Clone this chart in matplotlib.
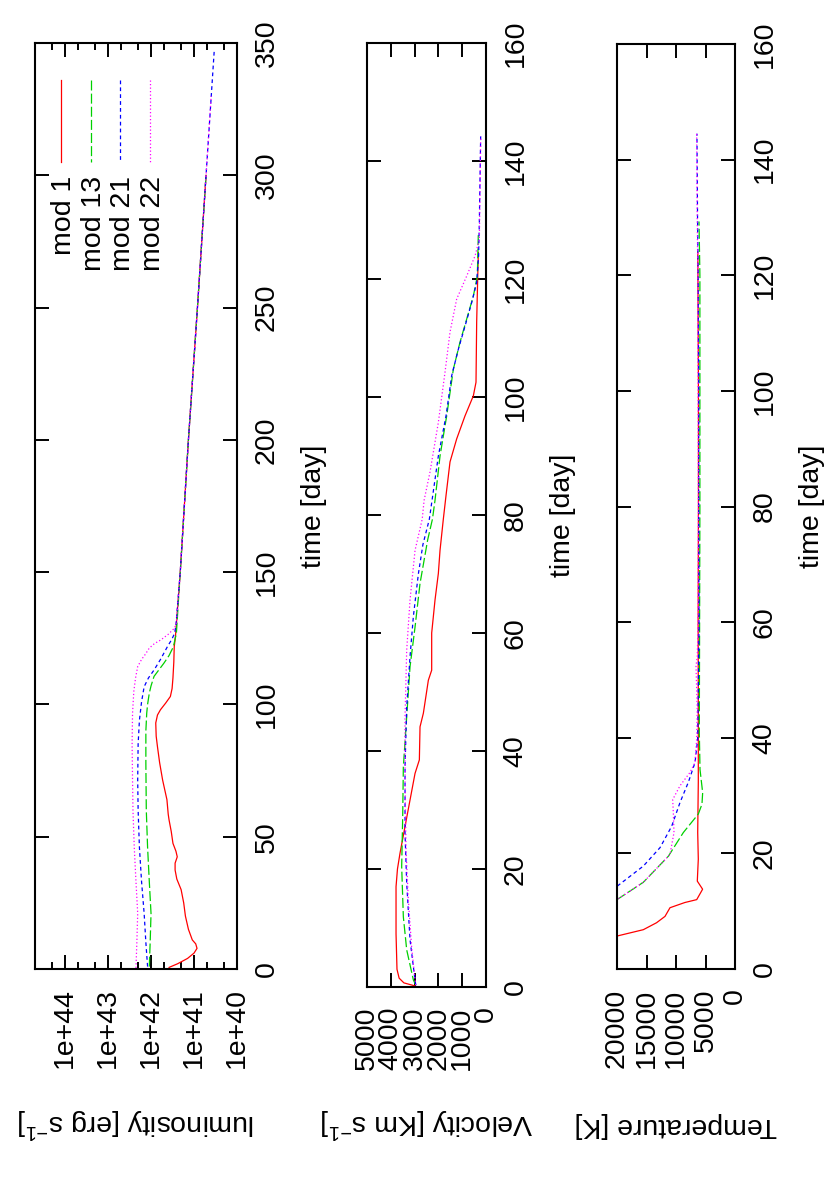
import numpy as np
import matplotlib
matplotlib.use('Agg')
import matplotlib.pyplot as plt
from matplotlib.lines import Line2D
from matplotlib.ticker import FixedLocator, MultipleLocator, NullFormatter, FuncFormatter

plt.rcParams['font.family'] = ['Liberation Sans', 'DejaVu Sans']
plt.rcParams['mathtext.fontset'] = 'custom'
plt.rcParams['mathtext.rm'] = 'Liberation Sans'
plt.rcParams['mathtext.it'] = 'Liberation Sans:italic'

FS = 20.5
W, H = 830, 1186

models = ['mod 1', 'mod 13', 'mod 21', 'mod 22']
colors = ['#ff0000', '#00d000', '#0000ff', '#ff00ff']
dashes = [None, (8, 2.5), (3, 2.5), (1, 1.8)]

# luminosity, log10 L [erg/s] vs time [day]
lum_t1 = [0.6, 2, 4, 6, 7.8, 9.5, 11, 15, 20, 25, 30, 34, 37.4, 40, 42.4, 44.5, 47.5, 52, 56.3, 58.5,
          64, 71.4, 78, 84, 88, 93, 96, 98, 100.5, 103, 106, 110, 116, 121.8, 126, 150, 200, 250, 300]
lum_l1 = [41.58, 41.38, 41.15, 41.0, 40.93, 40.96, 41.04, 41.13, 41.2, 41.24, 41.3, 41.4, 41.44, 41.44,
          41.39, 41.42, 41.49, 41.53, 41.58, 41.6, 41.63, 41.73, 41.8, 41.85, 41.88, 41.89, 41.85, 41.78,
          41.66, 41.55, 41.51, 41.49, 41.47, 41.46, 41.43, 41.32, 41.13, 40.92, 40.72]
lum_t13 = [0.9, 10, 21, 33, 46, 60, 77.8, 90, 96.7, 100, 104.3, 107, 110.6, 113, 115.6, 118.5, 121.8,
           126.9, 150, 200, 250, 300]
lum_l13 = [42.04, 42.02, 42.0, 42.04, 42.08, 42.11, 42.12, 42.12, 42.1, 42.08, 42.04, 42.0, 41.93, 41.82,
           41.7, 41.58, 41.48, 41.41, 41.32, 41.13, 40.92, 40.72]
lum_t21 = [0.9, 10, 21, 33, 46, 60, 71.4, 85, 94, 101, 106.7, 110, 113, 117, 121.8, 124.5, 126.9, 130,
           150, 200, 250, 300, 347]
lum_l21 = [42.08, 42.12, 42.16, 42.22, 42.27, 42.3, 42.31, 42.3, 42.27, 42.22, 42.16, 42.06, 41.93, 41.78,
           41.62, 41.52, 41.45, 41.42, 41.32, 41.13, 40.92, 40.72, 40.53]
lum_t22 = [0.4, 10, 21, 33, 46, 60, 71.4, 85, 96.7, 105, 110, 114.3, 117, 119, 121.3, 123, 124.4, 126.5,
           128.9, 131, 150, 200, 250, 300, 330]
lum_l22 = [42.35, 42.33, 42.31, 42.35, 42.39, 42.42, 42.43, 42.44, 42.43, 42.4, 42.36, 42.31, 42.22, 42.13,
           42.04, 41.92, 41.77, 41.6, 41.45, 41.41, 41.32, 41.13, 40.92, 40.72, 40.6]

# photospheric velocity [km/s]
vel_t1 = [0.2, 0.7, 1.5, 3, 9, 17, 20, 22.7, 27.2, 31.7, 36.2, 38.5, 44.1, 46.4, 52, 53.7, 60, 65.6, 70.1,
          74, 79.3, 83.3, 89, 92.9, 96.8, 100.2, 102.5, 112.7, 120, 124.5]
vel_v1 = [3000, 3450, 3650, 3740, 3780, 3780, 3720, 3612, 3402, 3192, 2982, 2800, 2772, 2632, 2422, 2282,
          2282, 2142, 2002, 1932, 1793, 1680, 1512, 1232, 882, 532, 420, 392, 350, 322]
vel_t13 = [0.3, 1.2, 6.3, 11.9, 20.4, 28.9, 37.3, 45.8, 54.3, 61, 68.4, 75.8, 79.3, 82.5, 90, 96.8, 104.7,
           109.3, 113.2, 117.1, 120.5, 127.8]
vel_v13 = [2950, 3052, 3332, 3473, 3543, 3500, 3473, 3332, 3192, 2982, 2772, 2450, 2250, 2142, 1932, 1652,
           1372, 1092, 812, 532, 364, 322]
vel_t21 = [0.3, 1.2, 8, 17.6, 26, 37.3, 47.5, 56, 62.8, 70, 75, 79.3, 90, 96.8, 103.6, 108.1, 112, 116,
           119.4, 124, 129.6, 144.2]
vel_v21 = [2950, 2982, 3192, 3332, 3402, 3402, 3332, 3192, 3052, 2842, 2650, 2380, 2002, 1680, 1442, 1162,
           882, 602, 392, 310, 280, 224]
vel_t22 = [0.3, 1.2, 6.6, 14.7, 23.2, 34.5, 45.8, 57.1, 65.6, 74, 79.3, 82.5, 87.3, 95.7, 104.2, 111, 116.6,
           120.5, 123.9, 126.7, 135, 144.2]
vel_v22 = [2950, 2982, 3122, 3262, 3360, 3402, 3402, 3332, 3192, 2982, 2680, 2600, 2352, 2002, 1722, 1512,
           1232, 812, 462, 280, 250, 224]

# temperature [K]
tem_t1 = [3.5, 5.7, 6.8, 8, 9.1, 10.6, 11.5, 12, 13.8, 15.2, 19, 23.6, 32.3, 46.7, 60, 80, 100, 124]
tem_k1 = [25000, 20000, 15540, 13300, 11865, 11018, 8500, 6490, 5490, 6390, 6220, 6320, 6220, 6220, 6250,
          6200, 6200, 6300]
tem_t13 = [10, 12, 15, 19.5, 23.6, 26.8, 28.5, 30.5, 34.5, 40.9, 60, 80, 100, 120, 129.3]
tem_k13 = [24000, 20000, 15540, 11300, 8760, 6220, 5600, 5480, 5930, 6050, 6000, 5950, 5950, 5950, 6100]
tem_t21 = [12, 14.3, 17.8, 21, 24.7, 28.8, 32.3, 35.7, 39.7, 50, 60, 80, 100, 120, 130, 144.5]
tem_k21 = [24000, 20000, 15540, 12700, 10730, 9320, 7910, 6780, 6330, 6200, 6100, 6150, 6150, 6250, 6350,
           6450]
tem_t22 = [10, 12, 15, 19.8, 23.6, 27, 29.3, 31.7, 34, 35.7, 39.7, 45, 52.4, 54, 60, 80, 100, 120, 130, 144.5]
tem_k22 = [24000, 20000, 15540, 11020, 10340, 10450, 10560, 9320, 7630, 6780, 6500, 6400, 6610, 6400, 6250,
           6200, 6250, 6300, 6400, 6500]

lum = [(lum_t1, lum_l1), (lum_t13, lum_l13), (lum_t21, lum_l21), (lum_t22, lum_l22)]
vel = [(vel_t1, vel_v1), (vel_t13, vel_v13), (vel_t21, vel_v21), (vel_t22, vel_v22)]
tem = [(tem_t1, tem_k1), (tem_t13, tem_k13), (tem_t21, tem_k21), (tem_t22, tem_k22)]


def box(x0, y0, x1, y1):
    return [x0 / W, 1 - y1 / H, (x1 - x0) / W, (y1 - y0) / H]


def fpos(x, y):
    return x / W, 1 - y / H


def style(ax, tstep, tmax):
    ax.set_ylim(0, tmax)
    ax.yaxis.set_major_locator(MultipleLocator(tstep))
    for s in ax.spines.values():
        s.set_linewidth(1.5)
    ax.tick_params(which='both', direction='in', top=True, right=True, left=True, bottom=True,
                   labelleft=False, labelright=True, labelsize=FS, width=1.4)
    ax.tick_params(which='major', length=10)
    ax.tick_params(which='minor', length=5)
    ax.tick_params(axis='y', labelrotation=90, pad=12)
    ax.tick_params(axis='x', labelrotation=90, pad=14)
    plt.setp(ax.get_yticklabels(), va='center', ha='left')
    plt.setp(ax.get_xticklabels(), va='top', ha='center')


def draw(ax, series, conv=lambda v: v):
    for (t, v), c, d in zip(series, colors, dashes):
        ln, = ax.plot(conv(np.array(v)), t, color=c, lw=0.9)
        if d is not None:
            ln.set_dashes(d)


fig = plt.figure(figsize=(W / 100, H / 100), dpi=100)

# luminosity panel
ax1 = fig.add_axes(box(35, 43, 237, 969))
draw(ax1, lum, lambda v: 10 ** v)
ax1.set_xscale('log')
ax1.set_xlim(5e44, 1e40)
ax1.xaxis.set_major_locator(FixedLocator([1e40, 1e41, 1e42, 1e43, 1e44]))
ax1.xaxis.set_major_formatter(FuncFormatter(lambda v, p: '1e+%d' % round(np.log10(v))))
ax1.xaxis.set_minor_locator(FixedLocator([m * 10.0 ** e for e in range(40, 45) for m in (2, 5)]))
ax1.xaxis.set_minor_formatter(NullFormatter())
style(ax1, 50, 350)

# velocity panel
ax2 = fig.add_axes(box(367, 43, 486, 987))
draw(ax2, vel)
ax2.set_xlim(5000, 0)
ax2.xaxis.set_major_locator(MultipleLocator(1000))
style(ax2, 20, 160)

# temperature panel
ax3 = fig.add_axes(box(617, 44, 735, 969))
draw(ax3, tem)
ax3.set_xlim(20000, 0)
ax3.xaxis.set_major_locator(MultipleLocator(5000))
style(ax3, 20, 160)

# legend (drawn by hand, rotated like the rest of the page)
for i, (name, c, d) in enumerate(zip(models, colors, dashes)):
    x = 61 + i * 29.5
    (x0, y0), (x1, y1) = fpos(x, 80), fpos(x, 162)
    ln = Line2D([x0, x1], [y0, y1], transform=fig.transFigure, color=c, lw=0.9)
    if d is not None:
        ln.set_dashes(d)
    fig.add_artist(ln)
    fig.text(*fpos(x + 3, 176), name, rotation=90, ha='center', va='top', fontsize=FS)

# axis titles
fig.text(*fpos(314, 506), 'time [day]', rotation=90, ha='center', va='center', fontsize=FS)
fig.text(*fpos(563, 515), 'time [day]', rotation=90, ha='center', va='center', fontsize=FS)
fig.text(*fpos(812, 506), 'time [day]', rotation=90, ha='center', va='center', fontsize=FS)
fig.text(*fpos(136, 1123), 'luminosity [erg s$^{-1}$]', rotation=180, ha='center', va='center', fontsize=FS)
fig.text(*fpos(427, 1123), 'Velocity [Km s$^{-1}$]', rotation=180, ha='center', va='center', fontsize=FS)
fig.text(*fpos(676, 1125), 'Temperature [K]', rotation=180, ha='center', va='center', fontsize=FS)

fig.savefig('out.png', dpi=100)
